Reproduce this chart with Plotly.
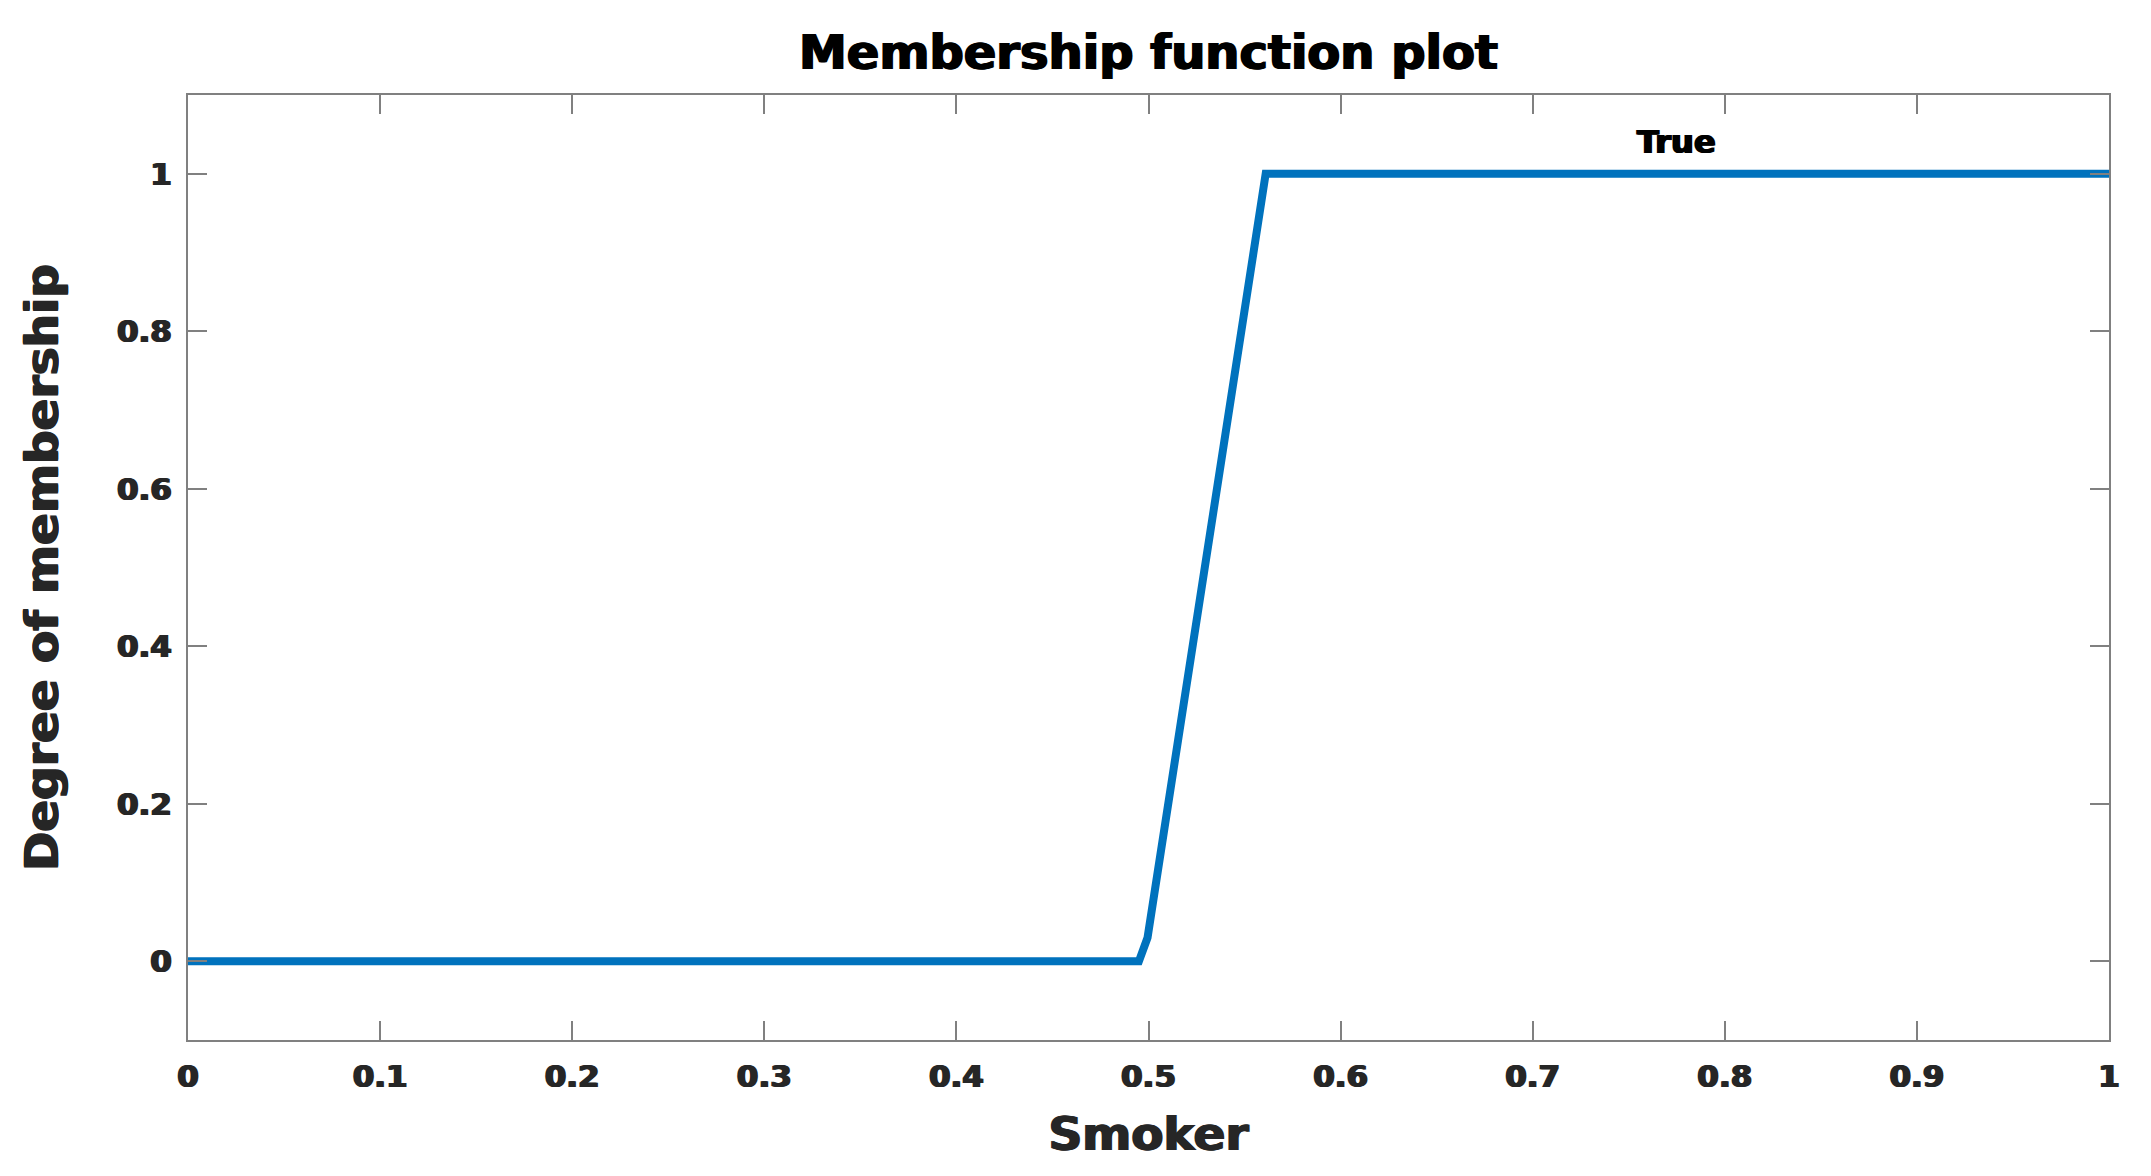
import plotly.graph_objects as go

# membership function "True" for input "Smoker"
smoker = [0, 0.495, 0.4995, 0.5567, 0.561, 1]
membership = [0, 0, 0.03, 0.932, 1, 1]

x_ticks = [0, 0.1, 0.2, 0.3, 0.4, 0.5, 0.6, 0.7, 0.8, 0.9, 1]
x_labels = ["0", "0.1", "0.2", "0.3", "0.4", "0.5", "0.6", "0.7", "0.8", "0.9", "1"]
y_ticks = [0, 0.2, 0.4, 0.6, 0.8, 1]
y_labels = ["0", "0.2", "0.4", "0.6", "0.8", "1"]

mf_name = "True"
mf_label_pos = (0.775, 1.04)

FONT = "DejaVu Sans"


def heavy(size, color):
    # a thin shadow on both sides makes the bold glyphs look closer to Arial Black
    return dict(family=FONT, size=size, color=color, weight="bold",
                shadow=f"1px 0 0 {color}, -1px 0 0 {color}")


axis_style = dict(
    showline=True, linecolor="#808080", linewidth=2, mirror="ticks",
    ticks="inside", ticklen=19, tickwidth=2, tickcolor="#808080",
    showgrid=False, zeroline=False,
    tickfont=heavy(31, "#262626"),
)

fig = go.Figure()
fig.add_trace(go.Scatter(
    x=smoker, y=membership, mode="lines",
    line=dict(color="#0072BD", width=8),
    showlegend=False,
))
fig.add_annotation(
    x=mf_label_pos[0], y=mf_label_pos[1], text=mf_name, showarrow=False,
    font=heavy(32, "black"),
)

fig.update_xaxes(
    range=[0, 1], tickvals=x_ticks, ticktext=x_labels, ticklabelstandoff=8,
    title=dict(text="Smoker", standoff=24, font=heavy(47, "#262626")),
    **axis_style,
)
fig.update_yaxes(
    range=[-0.1, 1.1], tickvals=y_ticks, ticktext=y_labels, ticklabelstandoff=8,
    title=dict(text="Degree of membership", standoff=43, font=heavy(47, "#262626")),
    **axis_style,
)
fig.update_layout(
    title=dict(text="Membership function plot", x=0.5, xref="paper", y=0.9626,
               xanchor="center", yanchor="middle", font=heavy(48, "black")),
    width=2151, height=1176,
    margin=dict(l=180, r=50, t=87, b=144),
    plot_bgcolor="white", paper_bgcolor="white",
)
fig.write_html("out.html")
